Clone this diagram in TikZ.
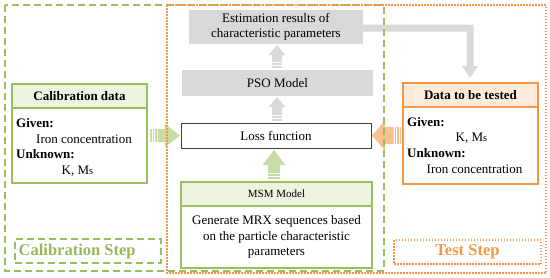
\documentclass[tikz,border=0pt]{standalone}
\usepackage{fontspec}
\setmainfont{Liberation Serif}
\usetikzlibrary{calc}
\definecolor{grn}{RGB}{155,190,95}
\definecolor{grntxt}{RGB}{150,185,90}
\definecolor{grnfill}{RGB}{236,243,222}
\definecolor{grnarr}{RGB}{200,221,165}
\definecolor{org}{RGB}{247,150,70}
\definecolor{orgfill}{RGB}{253,234,218}
\definecolor{orgarr}{RGB}{250,192,144}
\definecolor{gry}{RGB}{217,217,217}
\definecolor{dgry}{RGB}{64,64,64}
\newcommand\vstrup[7]{% color, xc, ytip, yhead, ybot, halfshaft, halfhead
 \fill[#1] ({#2},{#3}) -- ({#2+#7},{#4}) -- ({#2+#6},{#4}) -- ({#2+#6},{#5-6}) -- ({#2-#6},{#5-6}) -- ({#2-#6},{#4}) -- ({#2-#7},{#4}) -- cycle;
 \fill[#1] ({#2-#6},{#5-5}) rectangle ({#2+#6},{#5-3});
 \fill[#1] ({#2-#6},{#5-2}) rectangle ({#2+#6},{#5-0.5});
}
\newcommand\hstr[8]{% color, yc, xtail, xhead, xtip, halfshaft, halfhead, sign
 \fill[#1] ({#5},{#2}) -- ({#4},{#2-#7}) -- ({#4},{#2-#6}) -- ({#3+#8*7.5},{#2-#6}) -- ({#3+#8*7.5},{#2+#6}) -- ({#4},{#2+#6}) -- ({#4},{#2+#7}) -- cycle;
 \fill[#1] ({#3},{#2-#6}) rectangle ({#3+#8*1.5},{#2+#6});
 \fill[#1] ({#3+#8*2.5},{#2-#6}) rectangle ({#3+#8*4},{#2+#6});
 \fill[#1] ({#3+#8*5},{#2-#6}) rectangle ({#3+#8*6.5},{#2+#6});
}
\tikzset{
 basebox/.style={anchor=north west, inner sep=0pt, outer sep=0pt, align=center, font=\fontsize{13}{15.5}\selectfont},
 graybox/.style={basebox, fill=gry},
 grnbox/.style={basebox, draw=grn, line width=1.2pt},
 orgbox/.style={basebox, draw=org, line width=1.2pt},
 txt/.style={inner sep=0pt, font=\fontsize{13}{15.5}\selectfont},
 btxt/.style={txt, font=\fontsize{13}{15.5}\selectfont\bfseries},
 steptxt/.style={inner sep=0pt, font=\fontsize{16.5}{18}\selectfont\bfseries},
}
\begin{document}
\begin{tikzpicture}[x=1pt,y=-1pt]
\useasboundingbox (0,0) rectangle (550,277);
% gray boxes
\node[graybox, minimum width=174pt, minimum height=34pt] (est) at (189,10) {Estimation results of\\characteristic parameters};
\node[graybox, minimum width=191pt, minimum height=26pt] (pso) at (182,70) {PSO Model};
\node[basebox, draw=dgry, line width=1pt, fill=white, minimum width=190pt, minimum height=25pt] (loss) at (181,123) {Loss function};
% MSM
\node[grnbox, fill=white, minimum width=191pt, minimum height=62pt] (msmb) at (181,206) {Generate MRX sequences based\\on the particle characteristic\\parameters};
\node[grnbox, fill=grnfill, minimum width=191pt, minimum height=24pt, font=\fontsize{11}{13}\selectfont] (msmh) at (181,182) {MSM Model};
% calibration data
\node[grnbox, fill=white, minimum width=135pt, minimum height=75pt] (calb) at (12,108) {};
\node[grnbox, fill=grnfill, minimum width=135pt, minimum height=24pt, font=\fontsize{13}{15.5}\selectfont\bfseries] (calh) at (12,84) {Calibration data};
\node[btxt, anchor=base west] (cg) at (16,127) {Given:};
\node[txt, anchor=base] (ci) at (84,143) {Iron concentration};
\node[btxt, anchor=base west] (cu) at (16,158.5) {Unknown:};
\node[txt, anchor=base] (ck) at (77.5,174) {K, M{\fontsize{10.5}{12}\selectfont s}};
% data to be tested
\node[orgbox, fill=white, minimum width=135pt, minimum height=77pt] (datb) at (403,107) {};
\node[orgbox, fill=orgfill, minimum width=135pt, minimum height=24pt, font=\fontsize{13}{15.5}\selectfont\bfseries] (dath) at (403,83) {Data to be tested};
\node[btxt, anchor=base west] (dg) at (407,126) {Given:};
\node[txt, anchor=base] (dk) at (471.5,141.5) {K, M{\fontsize{10.5}{12}\selectfont s}};
\node[btxt, anchor=base west] (du) at (407,157.5) {Unknown:};
\node[txt, anchor=base] (di) at (474.5,173) {Iron concentration};
% arrows
\vstrup{gry}{277}{45}{55}{68}{5}{8.5}
\vstrup{gry}{277}{97}{107}{121}{5}{8.5}
\vstrup{grnarr}{274}{150}{165}{179}{6}{11.5}
\hstr{grnarr}{135.5}{150}{164.5}{180}{6.5}{12}{1}
\hstr{orgarr}{135.5}{401}{385}{372}{8.5}{15}{(-1)}
\fill[gry] (est.east|-0,24.5) -- (473.5,24.5) -- (473.5,66) -- (478,66) -- (470,78) -- (462,66) -- (466.5,66) -- (466.5,31.5) -- (est.east|-0,31.5) -- cycle;
% frames
\draw[grn, line width=1.2pt, dash pattern=on 7pt off 4pt] (5,5) rectangle (384,271);
\draw[org, line width=1.2pt, dash pattern=on 1.5pt off 1.5pt] (167,5) rectangle (546,273);
% step labels
\node[basebox, draw=grn, line width=1.2pt, dash pattern=on 7pt off 4pt, minimum width=146pt, minimum height=24pt] (cstep) at (15,239) {};
\node[steptxt, text=grntxt, anchor=west] (cstept) at (18.5,252) {Calibration Step};
\node[basebox, draw=org, line width=1.2pt, dash pattern=on 1.5pt off 1.5pt, minimum width=147pt, minimum height=24pt] (tstep) at (394,240) {};
\node[steptxt, text=org] (tstept) at (tstep.center) {Test Step};
\end{tikzpicture}
\end{document}
